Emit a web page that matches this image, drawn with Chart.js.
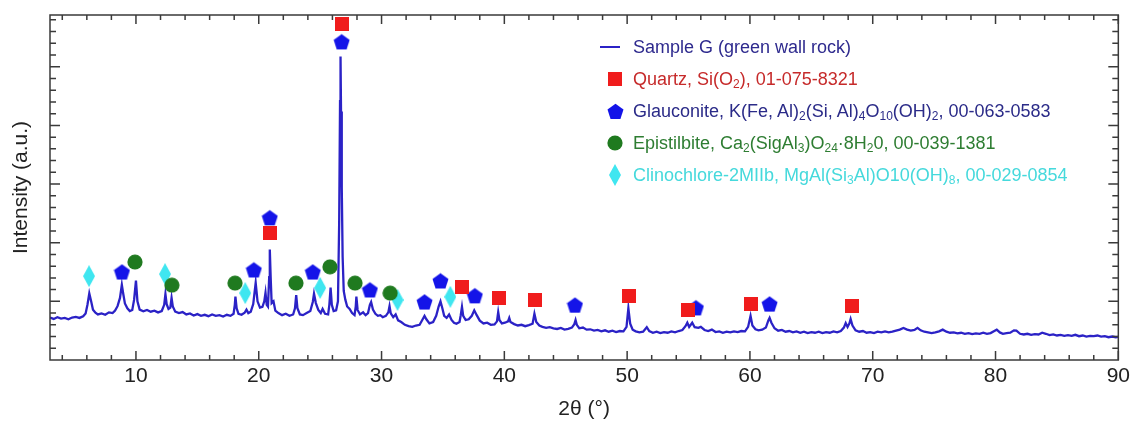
<!DOCTYPE html>
<html>
<head>
<meta charset="utf-8">
<title>XRD Sample G</title>
<script src="https://cdn.jsdelivr.net/npm/chart.js@4/dist/chart.umd.min.js"></script>
<style>
  body { margin: 0; background: #fff; }
  #wrap { position: relative; width: 1134px; height: 428px; }
  #legend div.txt { position: absolute; font: 18px 'Liberation Sans', Arial, sans-serif; line-height: 22px; white-space: nowrap; }
  #legend sub { font-size: 12px; vertical-align: -3px; line-height: 0; }
  #legend img, #legend span.ln { position: absolute; }
</style>
</head>
<body>
<div id="wrap">
  <canvas id="chart" width="1134" height="428"></canvas>
  <div id="legend"></div>
</div>
<script>
'use strict';
// measured pattern, 2theta (deg) vs intensity (a.u.)
var twoTheta = [3.0, 3.3, 3.6, 3.9, 4.2, 4.5, 4.8, 5.1, 5.4, 5.7, 5.9, 6.05, 6.2, 6.35, 6.5, 6.7, 6.9, 7.2, 7.5, 7.8,
  8.1, 8.3, 8.5, 8.7, 8.85, 8.95, 9.1, 9.3, 9.5, 9.7, 9.85, 10.0, 10.12, 10.3, 10.6, 10.9, 11.2, 11.5, 11.8, 12.1,
  12.3, 12.4, 12.5, 12.65, 12.8, 12.9, 13.0, 13.2, 13.5, 13.8, 14.1, 14.4, 14.7, 15.0, 15.3, 15.6, 15.9, 16.2, 16.5, 16.8,
  17.1, 17.4, 17.7, 17.95, 18.05, 18.1, 18.2, 18.35, 18.6, 18.85, 19.0, 19.15, 19.35, 19.55, 19.75, 19.9, 20.1, 20.3, 20.45, 20.55,
  20.65, 20.75, 20.85, 20.9, 20.97, 21.05, 21.2, 21.35, 21.6, 21.9, 22.2, 22.5, 22.8, 22.95, 23.05, 23.15, 23.35, 23.6, 23.9, 24.2,
  24.4, 24.5, 24.65, 24.85, 25.05, 25.2, 25.4, 25.65, 25.75, 25.85, 25.95, 26.1, 26.3, 26.45, 26.55, 26.62, 26.66, 26.7, 26.76, 26.83,
  26.92, 27.05, 27.2, 27.4, 27.6, 27.8, 27.9, 27.95, 28.05, 28.25, 28.5, 28.7, 28.9, 29.05, 29.15, 29.3, 29.5, 29.7, 29.9, 30.1,
  30.35, 30.55, 30.65, 30.75, 30.95, 31.15, 31.35, 31.6, 31.9, 32.2, 32.5, 32.8, 33.1, 33.35, 33.5, 33.65, 33.9, 34.2, 34.45, 34.65,
  34.8, 34.95, 35.1, 35.3, 35.5, 35.7, 35.9, 36.1, 36.35, 36.45, 36.55, 36.65, 36.85, 37.1, 37.35, 37.55, 37.75, 38.0, 38.3, 38.6,
  38.9, 39.2, 39.4, 39.5, 39.6, 39.8, 40.05, 40.3, 40.4, 40.5, 40.8, 41.1, 41.4, 41.7, 42.0, 42.3, 42.45, 42.6, 42.85, 43.1,
  43.4, 43.7, 44.0, 44.3, 44.6, 44.9, 45.2, 45.5, 45.7, 45.8, 45.9, 46.1, 46.4, 46.7, 47.0, 47.3, 47.6, 47.9, 48.2, 48.5,
  48.8, 49.1, 49.4, 49.7, 49.95, 50.1, 50.25, 50.45, 50.7, 51.0, 51.3, 51.6, 51.8, 52.1, 52.4, 52.7, 53.0, 53.3, 53.6, 53.9,
  54.2, 54.5, 54.75, 54.9, 55.05, 55.3, 55.5, 55.8, 56.0, 56.3, 56.6, 56.9, 57.2, 57.5, 57.8, 58.1, 58.4, 58.7, 59.0, 59.3,
  59.6, 59.85, 60.05, 60.2, 60.45, 60.7, 61.0, 61.3, 61.5, 61.6, 61.75, 62.0, 62.3, 62.6, 62.9, 63.2, 63.5, 63.8, 64.1, 64.4,
  64.7, 65.0, 65.3, 65.6, 65.9, 66.2, 66.5, 66.8, 67.1, 67.4, 67.65, 67.8, 67.95, 68.1, 68.2, 68.35, 68.6, 68.9, 69.2, 69.5,
  69.8, 70.1, 70.4, 70.7, 71.0, 71.3, 71.6, 71.9, 72.2, 72.5, 72.8, 73.1, 73.4, 73.65, 73.9, 74.2, 74.5, 74.8, 75.1, 75.4,
  75.7, 76.0, 76.3, 76.6, 76.9, 77.2, 77.5, 77.8, 78.1, 78.4, 78.7, 79.0, 79.3, 79.6, 79.9, 80.1, 80.35, 80.6, 80.9, 81.2,
  81.5, 81.7, 82.0, 82.3, 82.6, 82.9, 83.2, 83.5, 83.8, 84.1, 84.4, 84.7, 85.0, 85.3, 85.6, 85.9, 86.2, 86.5, 86.8, 87.1,
  87.4, 87.7, 88.0, 88.3, 88.6, 88.9, 89.2, 89.5, 89.8, 90.0];
var intensity = [12.3, 11.9, 12.4, 12.0, 12.2, 11.8, 12.3, 12.5, 12.2, 12.7, 13.5, 16.0, 19.3, 17.0, 14.6, 13.7, 13.2, 13.5, 13.1, 13.8,
  13.6, 14.3, 15.6, 18.0, 21.8, 19.5, 16.4, 15.0, 14.2, 14.5, 17.5, 23.0, 17.0, 14.6, 14.1, 14.5, 14.0, 14.3, 13.8, 14.2,
  16.0, 19.1, 16.2, 14.8, 15.2, 18.0, 15.5, 14.0, 13.6, 13.9, 13.2, 13.5, 12.9, 13.3, 12.8, 13.1, 12.7, 13.2, 12.8, 13.0,
  12.6, 13.1, 12.8, 13.4, 16.0, 18.4, 15.0, 13.4, 13.1, 13.7, 14.6, 13.6, 14.0, 16.2, 22.4, 17.0, 15.2, 15.4, 17.0, 19.5,
  16.0, 15.5, 24.0, 32.0, 24.0, 16.5, 17.0, 14.3, 13.6, 13.0, 13.4, 12.8, 13.2, 15.0, 18.8, 15.0, 13.2, 13.0, 13.6, 14.2,
  16.8, 19.2, 16.5, 14.5, 13.6, 14.8, 13.4, 13.2, 16.0, 21.0, 16.0, 14.2, 14.4, 17.0, 40.0, 75.0, 88.0, 72.0, 50.0, 30.0,
  20.0, 17.5, 15.5, 14.8, 13.6, 13.0, 15.5, 18.4, 14.5, 13.2, 13.8, 13.0, 13.6, 16.0, 16.8, 14.6, 13.4, 12.8, 13.0, 12.4,
  12.8, 13.8, 15.6, 13.5, 12.4, 13.2, 11.5, 11.0, 10.2, 9.8, 9.6, 10.0, 10.2, 11.8, 12.8, 11.8, 10.6, 11.0, 12.8, 15.5,
  17.0, 15.0, 12.8, 12.2, 13.2, 11.6, 10.8, 10.5, 11.0, 13.0, 15.4, 12.8, 11.6, 11.8, 12.8, 14.4, 13.0, 11.4, 10.6, 10.8,
  10.2, 10.3, 11.2, 13.9, 11.6, 10.6, 10.8, 11.2, 12.2, 11.0, 10.4, 10.0, 10.2, 9.8, 10.1, 10.5, 13.4, 11.0, 10.0, 9.6,
  9.3, 9.5, 9.2, 9.0, 9.3, 8.8, 9.0, 9.4, 10.4, 11.6, 10.2, 9.2, 9.4, 8.8, 8.9, 8.5, 8.7, 8.3, 8.6, 8.2,
  8.5, 8.1, 8.4, 8.3, 9.6, 15.0, 10.5, 8.8, 8.3, 8.0, 8.2, 9.5, 8.4, 7.9, 8.2, 7.8, 8.1, 7.9, 8.3, 8.0,
  8.4, 8.7, 9.8, 10.8, 9.6, 10.8, 9.5, 9.3, 9.6, 8.7, 8.4, 8.8, 8.1, 8.3, 7.9, 8.2, 8.0, 8.3, 8.1, 8.4,
  8.3, 9.6, 12.8, 10.0, 8.9, 8.6, 8.8, 9.4, 11.5, 12.2, 10.8, 9.2, 8.5, 8.7, 8.2, 8.4, 8.0, 8.3, 7.9, 8.2,
  7.8, 8.1, 7.9, 8.2, 7.8, 8.1, 7.9, 8.3, 8.0, 8.4, 9.4, 10.7, 9.6, 10.6, 11.9, 10.0, 8.6, 8.2, 8.4, 7.9,
  8.1, 7.8, 8.2, 8.0, 8.3, 8.0, 8.2, 8.5, 8.8, 9.3, 8.8, 8.5, 8.7, 9.3, 8.6, 8.2, 8.0, 7.8, 8.0, 8.3,
  8.8, 8.2, 7.9, 8.0, 7.7, 7.9, 7.6, 7.8, 7.5, 7.7, 7.6, 7.9, 7.6, 7.8, 8.4, 8.8, 8.0, 7.6, 7.8, 7.9,
  8.6, 8.5, 7.6, 7.4, 7.6, 7.3, 7.5, 7.4, 7.9, 7.6, 7.2, 7.4, 7.1, 7.3, 7.0, 7.2, 7.0, 7.3, 6.9, 7.1,
  6.8, 7.0, 6.9, 7.1, 6.8, 6.9, 6.6, 6.8, 6.6, 6.7];

// phase markers
var quartzX = [20.9, 26.8, 36.55, 39.55, 42.5, 50.15, 54.95, 60.1, 68.3];
var quartzY = [36.8, 97.4, 21.2, 18.0, 17.4, 18.6, 14.5, 16.2, 15.7];
var glauconiteX = [8.86, 19.6, 20.9, 24.4, 26.75, 29.05, 33.5, 34.8, 37.6, 45.75, 55.6, 61.6];
var glauconiteY = [25.5, 26.1, 41.2, 25.5, 92.2, 20.3, 16.8, 22.9, 18.6, 15.9, 15.1, 16.2];
var epistilbiteX = [9.92, 12.93, 18.07, 23.03, 25.8, 27.84, 30.7];
var epistilbiteY = [28.4, 21.7, 22.3, 22.3, 27.0, 22.3, 19.4];
var clinochloreX = [6.18, 12.37, 18.9, 25.0, 31.3, 35.6];
var clinochloreY = [24.3, 24.9, 19.4, 20.9, 17.4, 18.3];

var xTickValues = [10, 20, 30, 40, 50, 60, 70, 80, 90];

var legendLabels = [
  'Sample G (green wall rock)',
  'Quartz, Si(O<sub>2</sub>), 01-075-8321',
  'Glauconite, K(Fe, Al)<sub>2</sub>(Si, Al)<sub>4</sub>O<sub>10</sub>(OH)<sub>2</sub>, 00-063-0583',
  'Epistilbite, Ca<sub>2</sub>(SigAl<sub>3</sub>)O<sub>24</sub>·8H<sub>2</sub>0, 00-039-1381',
  'Clinochlore-2MIIb, MgAl(Si<sub>3</sub>Al)O10(OH)<sub>8</sub>, 00-029-0854'
];
var legendColors = ['#2e2a8e', '#c62a2a', '#2b2b88', '#2e7d32', '#45d9dc'];

var lineColor = '#2b22c6';
var font = "'Liberation Sans', Arial, sans-serif";

function toPoints(xs, ys) {
  var pts = [];
  for (var i = 0; i < xs.length; i++) {
    pts.push({ x: xs[i], y: ys[i] });
  }
  return pts;
}

// little canvases used as point styles (and legend symbols)
function makeMarker(kind, color) {
  var c = document.createElement('canvas');
  var w = 14, h = 14;
  if (kind === 'circle') { w = 16; h = 16; }
  if (kind === 'pentagon') { w = 17; h = 17; }
  if (kind === 'diamond') { w = 12; h = 22; }
  c.width = w;
  c.height = h;
  var ctx = c.getContext('2d');
  ctx.fillStyle = color;
  ctx.beginPath();
  if (kind === 'square') {
    ctx.rect(0, 0, w, h);
  } else if (kind === 'circle') {
    ctx.arc(8, 8, 7.6, 0, Math.PI * 2);
  } else if (kind === 'pentagon') {
    for (var i = 0; i < 5; i++) {
      var a = -Math.PI / 2 + i * 2 * Math.PI / 5;
      var px = 8.5 + 8.4 * Math.cos(a);
      var py = 9.2 + 8.4 * Math.sin(a);
      if (i === 0) ctx.moveTo(px, py); else ctx.lineTo(px, py);
    }
    ctx.closePath();
  } else {
    ctx.moveTo(6, 0);
    ctx.lineTo(12, 11);
    ctx.lineTo(6, 22);
    ctx.lineTo(0, 11);
    ctx.closePath();
  }
  ctx.fill();
  return c;
}

var quartzMark = makeMarker('square', '#f01c1c');
var glauconiteMark = makeMarker('pentagon', '#1414e8');
var epistilbiteMark = makeMarker('circle', '#1f7a1f');
var clinochloreMark = makeMarker('diamond', '#3fe6f0');

// frame on all four sides with inward ticks
var frameTicks = {
  id: 'frameTicks',
  afterDraw: function (chart) {
    var ctx = chart.ctx;
    var a = chart.chartArea;
    var xs = chart.scales.x, ys = chart.scales.y;
    ctx.save();
    ctx.strokeStyle = '#3a3a3a';
    ctx.lineWidth = 1.5;
    ctx.strokeRect(a.left, a.top, a.right - a.left, a.bottom - a.top);
    ctx.beginPath();
    for (var v = 4; v <= 90; v += 2) {
      var len = (v % 10 === 0) ? 9 : 5;
      var px = xs.getPixelForValue(v);
      ctx.moveTo(px, a.bottom); ctx.lineTo(px, a.bottom - len);
      ctx.moveTo(px, a.top); ctx.lineTo(px, a.top + len);
    }
    for (var k = 1; k * 3.4 < 100; k++) {
      var yl = (k % 5 === 0) ? 10 : 6;
      var py = ys.getPixelForValue(k * 3.4);
      ctx.moveTo(a.left, py); ctx.lineTo(a.left + yl, py);
      ctx.moveTo(a.right, py); ctx.lineTo(a.right - yl, py);
    }
    ctx.stroke();
    ctx.restore();
  }
};

var chart = new Chart(document.getElementById('chart'), {
  type: 'scatter',
  data: {
    datasets: [{
      label: 'Quartz',
      data: toPoints(quartzX, quartzY),
      pointStyle: quartzMark,
      clip: false
    }, {
      label: 'Epistilbite',
      data: toPoints(epistilbiteX, epistilbiteY),
      pointStyle: epistilbiteMark,
      clip: false
    }, {
      label: 'Glauconite',
      data: toPoints(glauconiteX, glauconiteY),
      pointStyle: glauconiteMark,
      clip: false
    }, {
      label: 'Clinochlore',
      data: toPoints(clinochloreX, clinochloreY),
      pointStyle: clinochloreMark,
      clip: false
    }, {
      label: 'Sample G',
      data: toPoints(twoTheta, intensity),
      showLine: true,
      borderColor: lineColor,
      borderWidth: 2.3,
      pointRadius: 0,
      tension: 0
    }]
  },
  options: {
    responsive: false,
    animation: false,
    devicePixelRatio: 1,
    layout: { padding: { top: 15, right: 14, left: 0, bottom: 0 } },
    plugins: { legend: { display: false }, tooltip: { enabled: false } },
    scales: {
      x: {
        type: 'linear',
        min: 3,
        max: 90,
        afterBuildTicks: function (scale) {
          scale.ticks = xTickValues.map(function (v) { return { value: v }; });
        },
        afterFit: function (scale) { scale.height = 68; },
        grid: { display: false, drawTicks: false },
        border: { display: false },
        ticks: { padding: 4, color: '#222', font: { family: font, size: 21 }, maxRotation: 0 },
        title: { display: true, text: '2θ (°)', color: '#222', font: { family: font, size: 21 }, padding: { top: 0, bottom: 6 } }
      },
      y: {
        min: 0,
        max: 100,
        afterFit: function (scale) { scale.width = 50; },
        grid: { display: false, drawTicks: false },
        border: { display: false },
        ticks: { display: false },
        title: { display: true, text: 'Intensity (a.u.)', color: '#222', font: { family: font, size: 21 }, padding: { top: 9, bottom: 0 } }
      }
    }
  },
  plugins: [frameTicks]
});

// legend with subscripts, as html over the canvas
function buildLegend() {
  var box = document.getElementById('legend');
  var marks = [null, quartzMark, glauconiteMark, epistilbiteMark, clinochloreMark];
  for (var i = 0; i < legendLabels.length; i++) {
    var cy = 47 + i * 32;
    if (i === 0) {
      var ln = document.createElement('span');
      ln.className = 'ln';
      ln.style.left = '600px';
      ln.style.top = (cy - 1) + 'px';
      ln.style.width = '20px';
      ln.style.height = '2px';
      ln.style.background = lineColor;
      box.append(ln);
    } else {
      var img = document.createElement('img');
      img.src = marks[i].toDataURL();
      img.style.left = (615 - marks[i].width / 2) + 'px';
      img.style.top = (cy - marks[i].height / 2) + 'px';
      box.append(img);
    }
    var t = document.createElement('div');
    t.className = 'txt';
    t.style.left = '633px';
    t.style.top = (cy - 11) + 'px';
    t.style.color = legendColors[i];
    t.innerHTML = legendLabels[i];
    box.append(t);
  }
}
buildLegend();
</script>
</body>
</html>
